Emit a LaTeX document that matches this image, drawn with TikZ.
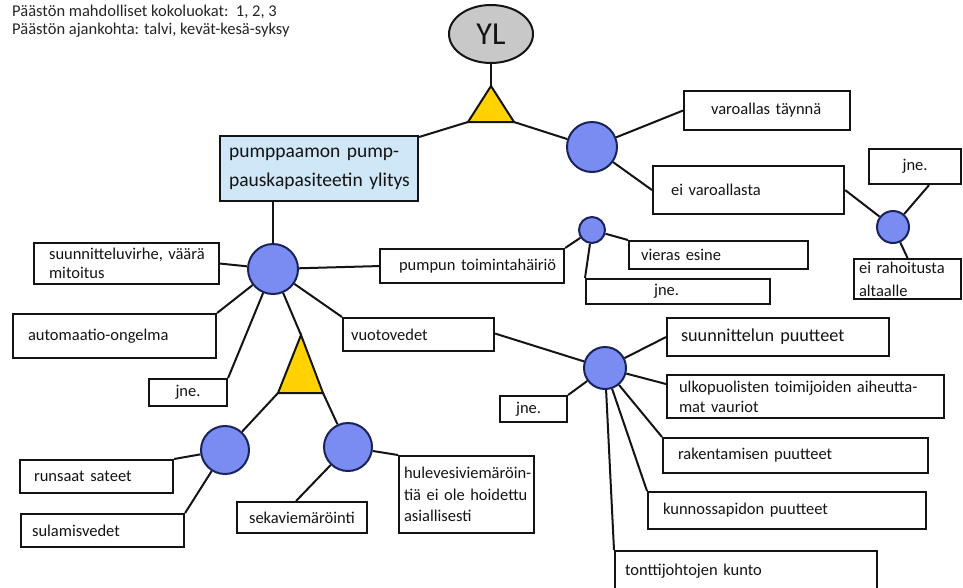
\documentclass[tikz,border=0pt]{standalone}
\usepackage{fontspec}
\setmainfont{Carlito}
\usetikzlibrary{shapes.geometric}
\definecolor{cblue}{RGB}{122,140,242}
\definecolor{cnavy}{RGB}{25,35,90}
\definecolor{tyel}{RGB}{255,210,0}
\definecolor{lblue}{RGB}{207,231,247}
\definecolor{ygray}{RGB}{200,200,200}
\definecolor{ink}{RGB}{20,20,20}
\begin{document}
\begin{tikzpicture}[x=1pt,y=-1pt,
  conn/.style={line width=2pt, draw=ink},
  box/.style={draw=ink, line width=2.1pt, fill=white, anchor=north west, align=left,
    inner ysep=0pt, text=ink, font=\fontsize{16.5}{19}\selectfont},
  circ/.style={circle, draw=cnavy, line width=2pt, fill=cblue, inner sep=0pt},
  tri/.style={draw=ink, line width=2pt, fill=tyel, line join=miter}
]
\useasboundingbox[fill=white] (0,0) rectangle (963,587);
\clip (0,0) rectangle (963,587);

% info text
\node[anchor=north west, align=left, inner sep=0pt, text=black!85,
  font=\fontsize{16.5}{17.5}\selectfont] (info) at (12,5)
  {\mbox{Päästön mahdolliset kokoluokat:~~1, 2, 3}\\\mbox{Päästön ajankohta: talvi, kevät-kesä-syksy}};

% top event
\node[ellipse, draw=ink, line width=2pt, fill=ygray, minimum width=84, minimum height=58, inner sep=0pt,
  text=ink, font=\fontsize{32}{32}\selectfont] (YL) at (491,34) {YL};

% triangles (corners)
\coordinate (t1a) at (491,86);
\coordinate (t1l) at (468,122);
\coordinate (t1r) at (514,122);
\coordinate (t2a) at (301,335);
\coordinate (t2l) at (278,393);
\coordinate (t2r) at (323,393);

% circles
\node[circ, minimum size=50] (C0) at (273,269) {};
\node[circ, minimum size=50] (C1) at (592,147) {};
\node[circ, minimum size=32] (C2) at (893,227) {};
\node[circ, minimum size=26] (C3) at (592,230) {};
\node[circ, minimum size=48] (C4) at (225,450) {};
\node[circ, minimum size=48] (C5) at (348,447) {};
\node[circ, minimum size=42] (C6) at (605,368) {};

% boxes
\node[box, fill=lblue, text width=180, inner xsep=9, minimum height=65,
  font=\fontsize{19.5}{29}\selectfont] (main) at (219,135) {\mbox{pumppaamon pump-}\\\mbox{pauskapasiteetin ylitys}};
\node[box, text width=112, inner xsep=27, minimum height=39] (var) at (683,90) {\mbox{varoallas täynnä}};
\node[box, text width=155, inner xsep=18, minimum height=48] (eivar) at (652,165) {\mbox{ei varoallasta}};
\node[box, text width=92, inner xsep=0, minimum height=35, align=center] (jne1) at (868,148) {jne.};
\node[box, text width=97, inner xsep=5, minimum height=40,
  font=\fontsize{16.5}{23}\selectfont] (rah) at (853,258) {\mbox{ei rahoitusta}\\altaalle};
\node[box, text width=155, inner xsep=15, minimum height=41,
  font=\fontsize{16.5}{19}\selectfont] (svir) at (33,242) {\mbox{suunnitteluvirhe, väärä}\\mitoitus};
\node[box, text width=146, inner xsep=19, minimum height=34] (pump) at (379,248) {\mbox{pumpun toimintahäiriö}};
\node[box, text width=155, inner xsep=12, minimum height=28] (vier) at (628,240) {\mbox{vieras esine}};
\node[box, text width=48, inner xsep=68, minimum height=25] (jne2) at (585,278) {jne.};
\node[box, text width=173, inner xsep=15, minimum height=44] (auto) at (12,313) {\mbox{automaatio-ongelma}};
\node[box, text width=78, inner xsep=0, minimum height=27, align=center] (jne3) at (148,378) {jne.};
\node[box, text width=135, inner xsep=8, minimum height=33] (vuoto) at (342,317) {vuotovedet};
\node[box, text width=125, inner xsep=14, minimum height=33] (runs) at (19,459) {\mbox{runsaat sateet}};
\node[box, text width=141, inner xsep=11, minimum height=33] (sula) at (20,513) {sulamisvedet};
\node[box, text width=106, inner xsep=12, minimum height=31] (seka) at (236,501) {\mbox{sekaviemäröinti}};
\node[box, text width=125, inner xsep=5, minimum height=77,
  font=\fontsize{16.5}{21.5}\selectfont] (hule) at (398,455) {\mbox{hulevesiviemäröin-}\\\mbox{tiä ei ole hoidettu}\\asiallisesti};
\node[box, text width=194, inner xsep=14, minimum height=38,
  font=\fontsize{18.2}{20}\selectfont] (suun) at (666,317) {\mbox{suunnittelun puutteet}};
\node[box, text width=253, inner xsep=12, minimum height=43,
  font=\fontsize{16.5}{20}\selectfont] (ulko) at (666,374) {\mbox{ulkopuolisten toimijoiden aiheutta-}\\\mbox{mat vauriot}};
\node[box, text width=35, inner xsep=16, minimum height=26] (jne4) at (499,395) {jne.};
\node[box, text width=235, inner xsep=15, minimum height=35] (rak) at (662,437) {\mbox{rakentamisen puutteet}};
\node[box, text width=248, inner xsep=15, minimum height=37] (kun) at (647,491) {\mbox{kunnossapidon puutteet}};
\node[box, text width=242, inner xsep=10, minimum height=40] (tont) at (614,550) {\mbox{tonttijohtojen kunto}};

% connectors
\draw[conn] (YL) -- (t1a);
\draw[conn] (t1l) -- ([yshift=-2pt]main.north east);
\draw[conn] (t1r) -- (C1);
\draw[conn] (C1) -- (var.west);
\draw[conn] (C1) -- (eivar.west);
\draw[conn] (eivar.east) -- (C2);
\draw[conn] (C2) -- ([xshift=14pt]jne1.south);
\draw[conn] (C2) -- (rah.north);
\draw[conn] (C0) -- (C0 |- main.south);
\draw[conn] (C0) -- (svir.east);
\draw[conn] (C0) -- (pump.west);
\draw[conn] (C0) -- (auto.north east);
\draw[conn] (C0) -- (jne3.north east);
\draw[conn] (C0) -- (t2a);
\draw[conn] (C0) -- (vuoto.north west);
\draw[conn] (t2l) -- (C4);
\draw[conn] (t2r) -- (C5);
\draw[conn] (C4) -- (runs.north east);
\draw[conn] (C4) -- (sula.north east);
\draw[conn] (C5) -- ([xshift=-6pt]seka.north);
\draw[conn] (C5) -- (hule.north west);
\draw[conn] (pump.north east) -- (C3);
\draw[conn] (C3) -- (vier.north west);
\draw[conn] (C3) -- (jne2.north west);
\draw[conn] ([yshift=1pt]vuoto.east) -- (C6);
\draw[conn] (C6) -- (suun.west);
\draw[conn] (C6) -- ([yshift=-10pt]ulko.north west);
\draw[conn] (C6) -- (rak.north west);
\draw[conn] (C6) -- (kun.north west);
\draw[conn] (C6) -- (tont.north west);
\draw[conn] (C6) -- (jne4.north east);

% triangles drawn on top of connector ends
\draw[tri] (t1a) -- (t1l) -- (t1r) -- cycle;
\draw[tri] (t2a) -- (t2l) -- (t2r) -- cycle;
\end{tikzpicture}
\end{document}
